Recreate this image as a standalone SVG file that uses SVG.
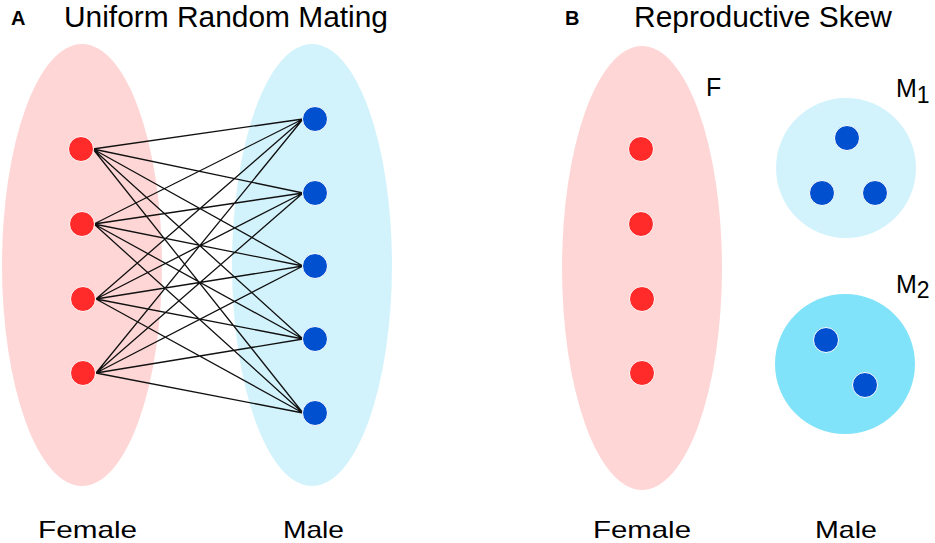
<svg xmlns="http://www.w3.org/2000/svg" width="935" height="543" viewBox="0 0 935 543">
<style>
text{font-family:"Liberation Sans",Arial,sans-serif;fill:#000}
.title{font-size:29px}
.panel{font-size:20px;font-weight:bold}
.lbl{font-size:25px}
.bot{font-size:24px}
.sub{font-size:23px}
.fem{fill:#ffd6d6}
.mal{fill:#d3f3fc}
.mal2{fill:#80e3fa}
.rn{fill:#ff2a2a;stroke:#ffffff;stroke-width:1}
.bn{fill:#0050d0;stroke:#ffffff;stroke-width:1}
.edge{stroke:#111;stroke-width:1.3;fill:none}
</style>
<rect width="935" height="543" fill="#ffffff"/>
<text class="panel" x="11" y="25">A</text>
<text class="title" x="64" y="27" textLength="324" lengthAdjust="spacingAndGlyphs">Uniform Random Mating</text>
<text class="panel" x="565" y="25">B</text>
<text class="title" x="634" y="27" textLength="258" lengthAdjust="spacingAndGlyphs">Reproductive Skew</text>

<g id="female-group-A"><ellipse class="fem" cx="82" cy="265" rx="80" ry="221"/></g>
<g id="male-group-A"><ellipse class="mal" cx="312" cy="265" rx="80" ry="221"/></g>

<g id="connectors">
<path class="edge" d="M93,149L303,119M93,149L303,193M93,149L303,266M93,149L303,339M93,149L303,413
M94,224L303,119M94,224L303,193M94,224L303,266M94,224L303,339M94,224L303,413
M96,299L303,119M96,299L303,193M96,299L303,266M96,299L303,339M96,299L303,413
M96,373L303,119M96,373L303,193M96,373L303,266M96,373L303,339M96,373L303,413"/>
</g>

<g id="f1"><circle class="rn" cx="81" cy="149" r="12.5"/></g>
<g id="f2"><circle class="rn" cx="82" cy="224" r="12.5"/></g>
<g id="f3"><circle class="rn" cx="83" cy="299" r="12.5"/></g>
<g id="f4"><circle class="rn" cx="83" cy="373" r="12.5"/></g>
<g id="m1"><circle class="bn" cx="315" cy="119" r="12.5"/></g>
<g id="m2"><circle class="bn" cx="315" cy="193" r="12.5"/></g>
<g id="m3"><circle class="bn" cx="315" cy="266" r="12.5"/></g>
<g id="m4"><circle class="bn" cx="315" cy="339" r="12.5"/></g>
<g id="m5"><circle class="bn" cx="315" cy="413" r="12.5"/></g>

<text class="bot" x="38" y="537.5" textLength="99" lengthAdjust="spacingAndGlyphs">Female</text>
<text class="bot" x="283" y="537.5" textLength="61" lengthAdjust="spacingAndGlyphs">Male</text>

<g id="female-group-B">
<ellipse class="fem" cx="642" cy="268" rx="80" ry="222"/>
<circle class="rn" cx="641" cy="149" r="12.5"/>
<circle class="rn" cx="641" cy="224" r="12.5"/>
<circle class="rn" cx="642" cy="299" r="12.5"/>
<circle class="rn" cx="642" cy="373" r="12.5"/>
</g>
<text class="lbl" x="706" y="96">F</text>

<g id="male-M1">
<circle class="mal" cx="846" cy="168" r="70"/>
<circle class="bn" cx="847" cy="138" r="12.5"/>
<circle class="bn" cx="822" cy="193" r="12.5"/>
<circle class="bn" cx="875" cy="193" r="12.5"/>
</g>
<text class="lbl" x="896" y="97">M<tspan class="sub" dy="6">1</tspan></text>

<g id="male-M2">
<circle class="mal2" cx="845" cy="364" r="70"/>
<circle class="bn" cx="826" cy="340" r="12.5"/>
<circle class="bn" cx="865" cy="385" r="12.5"/>
</g>
<text class="lbl" x="896" y="293">M<tspan class="sub" dy="5">2</tspan></text>

<text class="bot" x="593" y="537.5" textLength="98" lengthAdjust="spacingAndGlyphs">Female</text>
<text class="bot" x="815" y="537.5" textLength="62" lengthAdjust="spacingAndGlyphs">Male</text>
</svg>
